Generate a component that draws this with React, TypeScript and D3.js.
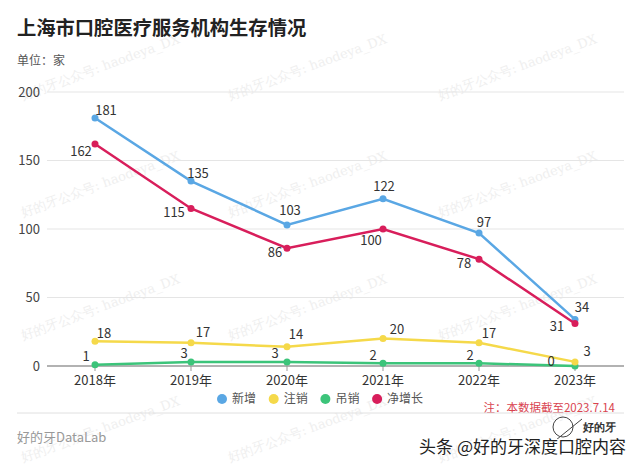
import React from "react";
import * as d3 from "d3";

const years = ["2018年", "2019年", "2020年", "2021年", "2022年", "2023年"];
const xinZeng = [181, 135, 103, 122, 97, 34];
const zhuXiao = [18, 17, 14, 20, 17, 3];
const diaoXiao = [1, 3, 3, 2, 2, 0];
const jingZeng = [162, 115, 86, 100, 78, 31];
const yTicks = [0, 50, 100, 150, 200];
const seriesNames = ["新增", "注销", "吊销", "净增长"];
const seriesColors = ["#5aa7e4", "#f5d94a", "#3cc47a", "#d81e5b"];

// label nudges (style only): [dx, dy] from point to label centre
const labelNudges: [number, number][][] = [
  [[11, -8], [7, -8], [3, -14], [1, -12], [5, -11], [7, -12]],
  [[9, -8], [12, -10], [9, -12], [14, -9], [10, -9], [12, -10]],
  [[-9, -8], [-7, -8], [-12, -8], [-10, -8], [-9, -8], [-24, -5]],
  [[-14, 7], [-17, 4], [-12, 4], [-12, 11], [-15, 4], [-18, 3]],
];

const FONT = "'Noto Sans CJK SC', 'Noto Sans', sans-serif";

export default function App() {
  const W = 640, H = 465;
  const x = d3.scaleBand<string>().domain(years).range([47, 623]);
  const y = d3.scaleLinear().domain([0, 200]).range([366, 92]);
  const cx = (d: string) => (x(d) ?? 0) + x.bandwidth() / 2;
  const data = [xinZeng, zhuXiao, diaoXiao, jingZeng];
  const line = d3
    .line<number>()
    .x((_, i) => cx(years[i]))
    .y((v) => y(v));

  const wmRows = [100, 217, 340, 462];
  const wmCols = [23, 230, 440];

  return (
    <svg
      width={W}
      height={H}
      style={{ position: "absolute", left: 0, top: 0, background: "#fff" }}
      fontFamily={FONT}
    >
      <rect width={W} height={H} fill="#fff" />
      {/* watermarks */}
      {wmRows.map((r) =>
        wmCols.map((c) => (
          <text
            key={`${r}-${c}`}
            x={c}
            y={r}
            transform={`rotate(-20 ${c} ${r})`}
            fontSize={13}
            fill="#efefef"
            fontFamily="'DejaVu Serif', serif"
          >
            好的牙公众号: haodeya_DX
          </text>
        ))
      )}
      <text x={17} y={35} fontSize={19.3} fontWeight="bold" fill="#222">
        上海市口腔医疗服务机构生存情况
      </text>
      <text x={17} y={65} fontSize={12} fill="#555">
        单位：家
      </text>
      {/* grid */}
      {yTicks.map((t) => (
        <g key={t}>
          <line
            x1={47}
            x2={624}
            y1={y(t)}
            y2={y(t)}
            stroke={t === 0 ? "#999" : "#e5e5e5"}
            strokeWidth={t === 0 ? 1.5 : 1}
          />
          <text
            x={40}
            y={y(t)}
            dy="0.35em"
            textAnchor="end"
            fontSize={13}
            fill="#444"
          >
            {t}
          </text>
        </g>
      ))}
      {years.map((yr) => (
        <g key={yr}>
          <line x1={cx(yr)} x2={cx(yr)} y1={366} y2={371} stroke="#999" />
          <text x={cx(yr)} y={380} dy="0.35em" textAnchor="middle" fontSize={13} fill="#333">
            {yr}
          </text>
        </g>
      ))}
      {/* lines */}
      {[2, 1, 0, 3].map((si) => (
        <g key={si}>
          <path d={line(data[si]) ?? ""} fill="none" stroke={seriesColors[si]} strokeWidth={2.5} />
          {data[si].map((v, i) => (
            <circle key={i} cx={cx(years[i])} cy={y(v)} r={3.5} fill={seriesColors[si]} />
          ))}
        </g>
      ))}
      {[0, 1, 2, 3].map((si) =>
        data[si].map((v, i) => (
          <text
            key={`${si}-${i}`}
            x={cx(years[i]) + labelNudges[si][i][0]}
            y={y(v) + labelNudges[si][i][1]}
            dy="0.35em"
            textAnchor="middle"
            fontSize={13}
            fill="#333"
          >
            {v}
          </text>
        ))
      )}
      {/* legend */}
      {seriesNames.map((n, i) => (
        <g key={n} transform={`translate(${222 + i * 51.7},399)`}>
          <circle r={5} fill={seriesColors[i]} />
          <text x={10} dy="0.35em" fontSize={12} fill="#555">
            {n}
          </text>
        </g>
      ))}
      <text x={615} y={408} dy="0.35em" textAnchor="end" fontSize={11.5} fill="#d9434f">
        注：本数据截至2023.7.14
      </text>
      <line x1={17} x2={624} y1={413} y2={413} stroke="#e0e0e0" />
      <text x={17} y={437} dy="0.35em" fontSize={13} fill="#999">
        好的牙DataLab
      </text>
      {/* logo */}
      <circle cx={563} cy={427} r={10} fill="none" stroke="#444" strokeWidth={1} />
      <line x1={556} y1={440} x2={582} y2={419} stroke="#444" strokeWidth={1} />
      <text x={583} y={431} fontSize={11} fontWeight="bold" fill="#333" fontFamily="'DejaVu Serif', serif">
        好的牙
      </text>
      <text
        x={626}
        y={453}
        textAnchor="end"
        fontSize={17}
        fill="#222"
        stroke="#fff"
        strokeWidth={2}
        paintOrder="stroke"
      >
        头条 @好的牙深度口腔内容
      </text>
    </svg>
  );
}
